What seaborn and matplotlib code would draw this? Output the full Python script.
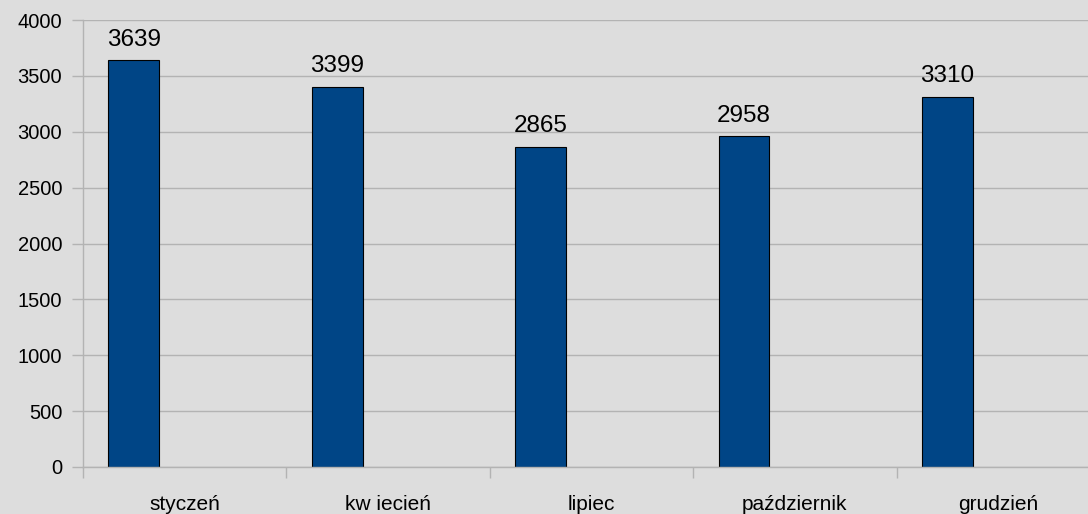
import pandas as pd
import seaborn as sns
import matplotlib.pyplot as plt
from matplotlib.ticker import MultipleLocator, FixedLocator

# dane z wykresu
months = ['styczeń', 'kw iecień', 'lipiec', 'październik', 'grudzień']
values = [3639, 3399, 2865, 2958, 3310]
empty_series = [0, 0, 0, 0, 0]

df = pd.DataFrame({
    'miesiac': months * 2,
    'wartosc': values + empty_series,
    'seria': ['a'] * len(months) + ['b'] * len(months),
})

bg = '#dddddd'
grid_color = '#b3b3b3'
bar_color = '#004586'

sns.set_style('whitegrid')
plt.rcParams['font.family'] = ['Liberation Sans', 'DejaVu Sans']

fig = plt.figure(figsize=(10.88, 5.14), dpi=100, facecolor=bg)
ax = fig.add_axes([83 / 1088, 47 / 514, 1017 / 1088, 447 / 514])
ax.set_facecolor(bg)

sns.barplot(data=df, x='miesiac', y='wartosc', hue='seria', hue_order=['a', 'b'],
            palette=[bar_color, bar_color], saturation=1, width=1.0, gap=0.5,
            edgecolor='black', linewidth=0.8, legend=False, ax=ax)

# druga seria jest pusta
for p in ax.containers[1]:
    p.set_visible(False)

ax.bar_label(ax.containers[0], labels=[str(v) for v in values],
             fontsize=17.5, padding=7, color='black')

ax.set_xlim(-0.5, len(months) - 0.5)
ax.set_ylim(0, 4000)
ax.yaxis.set_major_locator(MultipleLocator(500))
ax.set_xlabel('')
ax.set_ylabel('')

ax.grid(axis='y', color=grid_color, linewidth=1)
ax.grid(axis='x', visible=False)
ax.set_axisbelow(True)

for side in ['top', 'right']:
    ax.spines[side].set_visible(False)
for side in ['left', 'bottom']:
    ax.spines[side].set_visible(True)
    ax.spines[side].set_color(grid_color)
    ax.spines[side].set_linewidth(1)

ax.tick_params(axis='y', which='major', length=8, width=1, color=grid_color,
               pad=7, labelsize=14.5, labelcolor='black', left=True)
ax.tick_params(axis='x', which='major', length=0, pad=20, labelsize=15,
               labelcolor='black')
ax.xaxis.set_minor_locator(FixedLocator([i - 0.5 for i in range(len(months) + 1)]))
ax.tick_params(axis='x', which='minor', length=8, width=1, color=grid_color,
               bottom=True)

fig.savefig('out.png', dpi=100, facecolor=bg)
